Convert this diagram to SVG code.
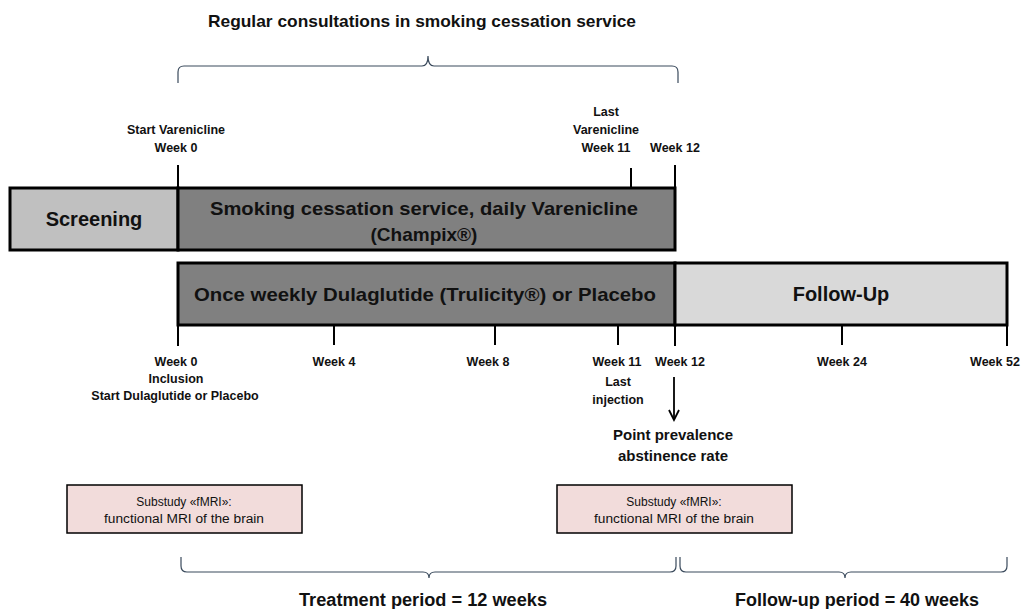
<svg xmlns="http://www.w3.org/2000/svg" width="1021" height="609" viewBox="0 0 1021 609">
<style>
text{font-family:"Liberation Sans",Arial,sans-serif;fill:#111;text-anchor:middle}
.b{font-weight:bold}
.s12{font-size:12.5px}
.s11{font-size:12px}
.s15{font-size:15px}
.s16{font-size:17px}
.s18{font-size:18px}
.s19{font-size:19px}
.s20{font-size:20px}
.bar{stroke:#000;stroke-width:3}
.tick{stroke:#000;stroke-width:2;fill:none}
.brace{stroke:#3a4a5c;stroke-width:1.2;fill:none}
.sub{fill:#f2dcdb;stroke:#000;stroke-width:1.5}
</style>
<defs>
<marker id="ah" markerWidth="14" markerHeight="14" refX="11" refY="6" orient="auto" markerUnits="userSpaceOnUse">
<path d="M1,1 L11,6 L1,11" fill="none" stroke="#000" stroke-width="1.8"/>
</marker>
</defs>

<g id="title">
<text class="b s16" x="422" y="27" textLength="428" lengthAdjust="spacingAndGlyphs">Regular consultations in smoking cessation service</text>
</g>

<g id="connectors">
<path class="brace" d="M178,83 L178,72 Q178,66 184,66 L422,66 Q428,66 428,56 Q428,66 434,66 L672,66 Q678,66 678,72 L678,83"/>
<path class="brace" d="M181,557 L181,566 Q181,572 187,572 L423,572 Q429,572 429,578 Q429,572 435,572 L670,572 Q676,572 676,566 L676,557"/>
<path class="brace" d="M680,557 L680,566 Q680,572 686,572 L839,572 Q845,572 845,578 Q845,572 851,572 L1001,572 Q1007,572 1007,566 L1007,557"/>
<line class="tick" x1="178" y1="165" x2="178" y2="188"/>
<line class="tick" x1="631" y1="168" x2="631" y2="188"/>
<line class="tick" x1="675" y1="165" x2="675" y2="188"/>
<line class="tick" x1="178" y1="325" x2="178" y2="346"/>
<line class="tick" x1="334" y1="325" x2="334" y2="345"/>
<line class="tick" x1="495" y1="325" x2="495" y2="345"/>
<line class="tick" x1="618" y1="325" x2="618" y2="345"/>
<line class="tick" x1="675" y1="325" x2="675" y2="346"/>
<line class="tick" x1="842" y1="325" x2="842" y2="345"/>
<line class="tick" x1="1007" y1="325" x2="1007" y2="346"/>
<line x1="674" y1="377" x2="674" y2="420" stroke="#000" stroke-width="1.8" marker-end="url(#ah)"/>
</g>

<g id="top-labels">
<text class="b s12" x="176" y="134">Start Varenicline</text>
<text class="b s12" x="176" y="152">Week 0</text>
<text class="b s12" x="606" y="116">Last</text>
<text class="b s12" x="606" y="134">Varenicline</text>
<text class="b s12" x="606" y="152">Week 11</text>
<text class="b s12" x="675" y="152">Week 12</text>
</g>

<g id="screening">
<rect class="bar" x="10" y="188" width="168" height="62" fill="#c0c0c0"/>
<text class="b s20" x="94" y="226">Screening</text>
</g>

<g id="varenicline">
<rect class="bar" x="178" y="188" width="497" height="62" fill="#808080"/>
<text class="b s19" x="424" y="215" textLength="428" lengthAdjust="spacingAndGlyphs">Smoking cessation service, daily Varenicline</text>
<text class="b s19" x="424" y="241">(Champix®)</text>
</g>

<g id="dulaglutide">
<rect class="bar" x="178" y="263" width="497" height="62" fill="#808080"/>
<text class="b s19" x="425" y="301" textLength="462" lengthAdjust="spacingAndGlyphs">Once weekly Dulaglutide (Trulicity®) or Placebo</text>
</g>

<g id="followup">
<rect class="bar" x="675" y="263" width="332" height="62" fill="#d9d9d9"/>
<text class="b s20" x="841" y="301">Follow-Up</text>
</g>

<g id="bottom-labels">
<text class="b s12" x="176" y="366">Week 0</text>
<text class="b s12" x="176" y="383">Inclusion</text>
<text class="b s12" x="175" y="400">Start Dulaglutide or Placebo</text>
<text class="b s12" x="334" y="366">Week 4</text>
<text class="b s12" x="488" y="366">Week 8</text>
<text class="b s12" x="617" y="366">Week 11</text>
<text class="b s12" x="618" y="386">Last</text>
<text class="b s12" x="618" y="404">injection</text>
<text class="b s12" x="680" y="366">Week 12</text>
<text class="b s12" x="842" y="366">Week 24</text>
<text class="b s12" x="995" y="366">Week 52</text>
</g>

<g id="endpoint">
<text class="b s15" x="673" y="440">Point prevalence</text>
<text class="b s15" x="673" y="461">abstinence rate</text>
</g>

<g id="substudy1">
<rect class="sub" x="67" y="485" width="235" height="48"/>
<text class="s11" x="184" y="506">Substudy «fMRI»:</text>
<text class="s11" x="184" y="523" textLength="160" lengthAdjust="spacingAndGlyphs">functional MRI of the brain</text>
</g>

<g id="substudy2">
<rect class="sub" x="557" y="485" width="235" height="48"/>
<text class="s11" x="674" y="506">Substudy «fMRI»:</text>
<text class="s11" x="674" y="523" textLength="160" lengthAdjust="spacingAndGlyphs">functional MRI of the brain</text>
</g>

<g id="periods">
<text class="b s18" x="423" y="606" textLength="248" lengthAdjust="spacingAndGlyphs">Treatment period = 12 weeks</text>
<text class="b s18" x="857" y="606" textLength="244" lengthAdjust="spacingAndGlyphs">Follow-up period = 40 weeks</text>
</g>
</svg>
